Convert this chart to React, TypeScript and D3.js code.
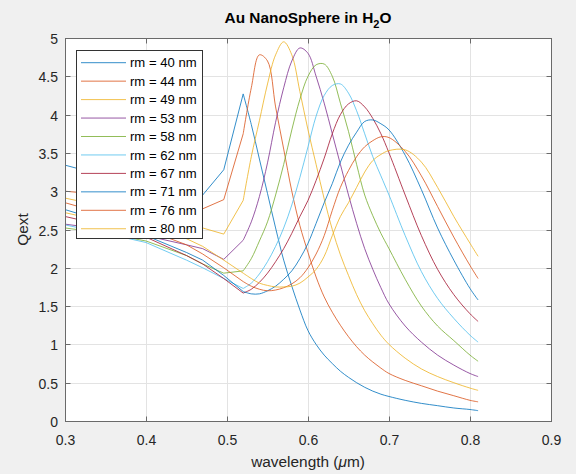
import React from "react";
import * as d3 from "d3";

const WL = [0.30, 0.35, 0.40, 0.45, 0.47, 0.496, 0.52, 0.53, 0.54, 0.55, 0.56, 0.57, 0.58, 0.59, 0.60, 0.61, 0.62, 0.63, 0.64, 0.65, 0.66, 0.67, 0.68, 0.69, 0.70, 0.72, 0.74, 0.76, 0.78, 0.80, 0.81];

const q40 = [3.34, 3.2, 3.0, 2.9, 2.95, 3.28, 4.27, 3.87, 3.42, 2.97, 2.52, 2.1, 1.76, 1.45, 1.18, 1.0, 0.86, 0.75, 0.65, 0.57, 0.5, 0.44, 0.39, 0.35, 0.32, 0.27, 0.23, 0.2, 0.17, 0.15, 0.135];
const q44 = [3.0, 2.95, 2.85, 2.78, 2.77, 2.89, 3.75, 4.35, 4.78, 4.7, 4.1, 3.55, 3.0, 2.55, 2.2, 1.88, 1.62, 1.42, 1.25, 1.1, 0.97, 0.86, 0.77, 0.69, 0.62, 0.53, 0.46, 0.39, 0.33, 0.27, 0.25];
const q49 = [2.91, 2.8, 2.68, 2.57, 2.52, 2.44, 2.88, 3.45, 3.92, 4.4, 4.78, 4.95, 4.78, 4.3, 3.8, 3.35, 2.9, 2.5, 2.17, 1.9, 1.65, 1.44, 1.27, 1.12, 1.0, 0.82, 0.68, 0.58, 0.5, 0.43, 0.40];
const q53 = [2.57, 2.5, 2.42, 2.3, 2.25, 2.11, 2.36, 2.6, 2.93, 3.37, 3.9, 4.35, 4.7, 4.87, 4.8, 4.5, 4.15, 3.75, 3.35, 2.95, 2.58, 2.25, 1.98, 1.74, 1.53, 1.24, 1.03, 0.86, 0.73, 0.62, 0.58];
const q58 = [2.52, 2.45, 2.35, 2.16, 2.05, 1.93, 1.96, 2.12, 2.35, 2.6, 2.95, 3.35, 3.8, 4.2, 4.5, 4.65, 4.66, 4.5, 4.15, 3.78, 3.35, 2.95, 2.68, 2.45, 2.25, 1.85, 1.5, 1.24, 1.05, 0.86, 0.78];
const q62 = [2.56, 2.45, 2.33, 2.1, 2.0, 1.86, 1.73, 1.8, 1.92, 2.08, 2.28, 2.52, 2.82, 3.18, 3.58, 3.98, 4.25, 4.38, 4.4, 4.28, 4.05, 3.75, 3.45, 3.2, 2.95, 2.42, 1.95, 1.6, 1.34, 1.12, 1.03];
const q67 = [2.67, 2.55, 2.4, 2.16, 2.05, 1.86, 1.67, 1.72, 1.81, 1.93, 2.08, 2.25, 2.45, 2.67, 2.88, 3.14, 3.43, 3.75, 4.0, 4.14, 4.18, 4.1, 3.95, 3.75, 3.5, 2.95, 2.42, 1.98, 1.65, 1.4, 1.30];
const q71 = [2.76, 2.6, 2.42, 2.2, 2.1, 1.9, 1.69, 1.66, 1.66, 1.7, 1.76, 1.85, 1.96, 2.12, 2.32, 2.58, 2.85, 3.1, 3.38, 3.6, 3.77, 3.91, 3.93, 3.88, 3.8, 3.47, 3.02, 2.52, 2.1, 1.73, 1.58];
const q76 = [2.85, 2.7, 2.5, 2.3, 2.18, 2.0, 1.82, 1.76, 1.72, 1.7, 1.71, 1.74, 1.79, 1.87, 2.0, 2.18, 2.42, 2.75, 3.05, 3.27, 3.45, 3.58, 3.66, 3.71, 3.70, 3.52, 3.2, 2.8, 2.4, 2.03, 1.86];
const q80 = [2.72, 2.6, 2.48, 2.38, 2.28, 2.1, 1.93, 1.86, 1.8, 1.77, 1.75, 1.75, 1.76, 1.8, 1.88, 1.98, 2.15, 2.42, 2.67, 2.85, 3.05, 3.25, 3.4, 3.48, 3.53, 3.54, 3.38, 3.05, 2.67, 2.32, 2.15];

const LABELS = ["rm = 40 nm", "rm = 44 nm", "rm = 49 nm", "rm = 53 nm", "rm = 58 nm", "rm = 62 nm", "rm = 67 nm", "rm = 71 nm", "rm = 76 nm", "rm = 80 nm"];
const SERIES = [q40, q44, q49, q53, q58, q62, q67, q71, q76, q80];
const COLORS = ["#0072BD", "#D95319", "#EDB120", "#7E2F8E", "#77AC30", "#4DBEEE", "#A2142F", "#0072BD", "#D95319", "#EDB120"];

const XTICKS = [0.3, 0.4, 0.5, 0.6, 0.7, 0.8, 0.9];
const YTICKS = [0, 0.5, 1, 1.5, 2, 2.5, 3, 3.5, 4, 4.5, 5];

const FONT = "'Liberation Sans', Arial, Helvetica, sans-serif";

export default function App() {
  const x = d3.scaleLinear().domain([0.3, 0.9]).range([65, 551]);
  const y = d3.scaleLinear().domain([0, 5]).range([421, 38]);
  const L = 65.5, R = 551.5, T = 38.5, B = 421.5;
  const split = WL.indexOf(0.52);

  const lineLin = d3.line<number>().x((_, i) => x(WL[i])).y((d) => y(d)).curve(d3.curveLinear);
  const lineSmooth = d3
    .line<[number, number]>()
    .x((d) => x(d[0]))
    .y((d) => y(d[1]))
    .curve(d3.curveCatmullRom.alpha(0.5));

  const legX = 76.5, legY = 50.5, legW = 126, legH = 188;
  const rowY = (i: number) => 62.7 + i * 18.45;

  return (
    <svg width={576} height={474} style={{ position: "absolute", left: 0, top: 0 }} fontFamily={FONT}>
      <rect x={0} y={0} width={576} height={474} fill="#f0f0f0" />
      <rect x={L} y={T} width={R - L} height={B - T} fill="#ffffff" />
      {XTICKS.slice(1, -1).map((t) => (
        <line key={"gx" + t} x1={Math.round(x(t)) + 0.5} x2={Math.round(x(t)) + 0.5} y1={T} y2={B} stroke="#e3e3e3" strokeWidth={1} />
      ))}
      {YTICKS.slice(1, -1).map((t) => (
        <line key={"gy" + t} x1={L} x2={R} y1={Math.round(y(t)) + 0.5} y2={Math.round(y(t)) + 0.5} stroke="#e3e3e3" strokeWidth={1} />
      ))}
      {SERIES.map((s, k) => {
        const left = s.slice(0, split + 1);
        const right: [number, number][] = s.slice(split).map((v, i) => [WL[split + i], v]);
        return (
          <g key={"s" + k} stroke={COLORS[k]} fill="none" strokeWidth={1} strokeOpacity={0.8}>
            <path d={lineLin(left) || ""} />
            <path d={lineSmooth(right) || ""} />
          </g>
        );
      })}
      <rect x={L} y={T} width={R - L} height={B - T} fill="none" stroke="#6a6a6a" strokeWidth={1} />
      {XTICKS.map((t) => {
        const px = Math.round(x(t)) + 0.5;
        return (
          <g key={"xt" + t}>
            <line x1={px} x2={px} y1={B} y2={B - 5} stroke="#6a6a6a" />
            <line x1={px} x2={px} y1={T} y2={T + 5} stroke="#6a6a6a" />
            <text x={px} y={445} fontSize={14} textAnchor="middle" fill="#262626">
              {t.toFixed(1)}
            </text>
          </g>
        );
      })}
      {YTICKS.map((t) => {
        const py = Math.round(y(t)) + 0.5;
        return (
          <g key={"yt" + t}>
            <line x1={L} x2={L + 5} y1={py} y2={py} stroke="#6a6a6a" />
            <line x1={R} x2={R - 5} y1={py} y2={py} stroke="#6a6a6a" />
            <text x={58} y={py + 5} fontSize={14} textAnchor="end" fill="#262626">
              {String(t)}
            </text>
          </g>
        );
      })}
      <rect x={legX} y={legY} width={legW} height={legH} fill="#ffffff" stroke="#333333" strokeWidth={1} />
      {LABELS.map((lab, i) => (
        <g key={"lg" + i}>
          <line x1={81} x2={126} y1={rowY(i)} y2={rowY(i)} stroke={COLORS[i]} strokeWidth={1} strokeOpacity={0.8} />
          <text x={130} y={rowY(i) + 4.6} fontSize={13.1} fill="#000000">
            {lab}
          </text>
        </g>
      ))}
      <text x={308} y={23} fontSize={15.4} fontWeight="bold" textAnchor="middle" fill="#000000">
        Au NanoSphere in H
        <tspan fontSize={11} dy={5}>2</tspan>
        <tspan dy={-5}>O</tspan>
      </text>
      <text x={308} y={467} fontSize={15.4} textAnchor="middle" fill="#262626">
        wavelength (<tspan fontStyle="italic">μ</tspan>m)
      </text>
      <text transform="translate(28,229.5) rotate(-90)" fontSize={15.4} textAnchor="middle" fill="#262626">
        Qext
      </text>
    </svg>
  );
}
